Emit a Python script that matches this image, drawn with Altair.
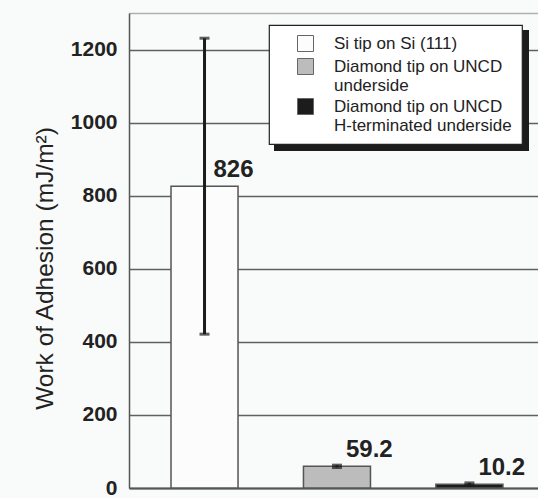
import altair as alt
import pandas as pd

categories = ["Si tip on Si (111)",
              "Diamond tip on UNCD|underside",
              "Diamond tip on UNCD|H-terminated underside"]
values = [826, 59.2, 10.2]
err_low = [421, 56, 7]
err_high = [1231, 62.5, 14]
value_labels = ["826", "59.2", "10.2"]
fill_colors = ["#fcfcfc", "#bcbcbc", "#1c1c1c"]
y_ticks = [0, 200, 400, 600, 800, 1000, 1200, 1300]

df = pd.DataFrame({
    "cat": categories,
    "value": values,
    "low": err_low,
    "high": err_high,
    "label": value_labels,
})

FONT = "Liberation Sans"
TXT = "#222222"

x_enc = alt.X("cat:N", sort=categories,
              scale=alt.Scale(paddingInner=0.494, paddingOuter=0.291, align=0.545),
              axis=alt.Axis(labels=False, ticks=False, title=None, domain=True,
                            domainColor="#555555", domainWidth=2, grid=False))

y_scale = alt.Scale(domain=[0, 1300], nice=False, zero=True)

base = alt.Chart(df)

bars = base.mark_bar(stroke="#555555", strokeWidth=1.5).encode(
    x=x_enc,
    y=alt.Y("value:Q", scale=y_scale,
            title="Work of Adhesion (mJ/m²)",
            axis=alt.Axis(values=y_ticks, format="d",
                          labelExpr="datum.value == 1300 ? '' : datum.label",
                          ticks=False, labelPadding=12,
                          labelFont=FONT, labelFontSize=21, labelFontWeight="bold",
                          labelColor=TXT,
                          titleFont=FONT, titleFontSize=24.5, titleFontWeight="normal",
                          titleColor=TXT, titleAngle=270, titleX=-77, titleY=255,
                          titleAlign="center", titleBaseline="alphabetic",
                          domainColor="#555555", domainWidth=1.5,
                          grid=True,
                          gridColor={"condition": {"test": "datum.value == 1300", "value": "#b0b0b0"},
                                     "value": "#606060"},
                          gridWidth=1.3)),
    fill=alt.Fill("cat:N", sort=categories,
                  scale=alt.Scale(domain=categories, range=fill_colors),
                  legend=alt.Legend(title=None, orient="none", legendX=140, legendY=12,
                                    labelExpr="split(datum.label, '|')",
                                    symbolType="square", symbolSize=256,
                                    symbolStrokeColor="#666666", symbolStrokeWidth=1,
                                    labelFont=FONT, labelFontSize=17, labelColor=TXT,
                                    labelLimit=400, labelOffset=20, symbolOffset=18,
                                    rowPadding=2, padding=10,
                                    fillColor="white", strokeColor="#222222")),
)

err_rule = base.mark_rule(color="#1c1c1c", strokeWidth=3).encode(
    x=alt.X("cat:N", sort=categories),
    y=alt.Y("low:Q", scale=y_scale),
    y2="high:Q",
)
cap_low = base.mark_tick(color="#1c1c1c", thickness=3, size=10).encode(
    x=alt.X("cat:N", sort=categories), y=alt.Y("low:Q", scale=y_scale))
cap_high = base.mark_tick(color="#1c1c1c", thickness=3, size=10).encode(
    x=alt.X("cat:N", sort=categories), y=alt.Y("high:Q", scale=y_scale))

texts = base.mark_text(align="left", baseline="alphabetic", dx=9, dy=-9,
                       font=FONT, fontSize=24, fontWeight="bold", color=TXT).encode(
    x=alt.X("cat:N", sort=categories),
    y=alt.Y("value:Q", scale=y_scale),
    text="label:N",
)

shadow = alt.Chart(alt.Data(values=[{"s": 1}])).mark_rect(color="#1c1c1c").encode(
    x=alt.value(145), x2=alt.value(400), y=alt.value(17), y2=alt.value(138))

chart = alt.layer(shadow, bars, err_rule, cap_low, cap_high, texts).properties(
    width=409, height=475,
    autosize=alt.AutoSizeParams(type="none"),
    padding={"left": 129, "top": 13, "right": 0, "bottom": 10},
    background="#f9fafa",
).configure_view(stroke=None).configure_legend(strokeWidth=1.2)

chart.save("out.html", embed_options={"renderer": "svg", "actions": False})
